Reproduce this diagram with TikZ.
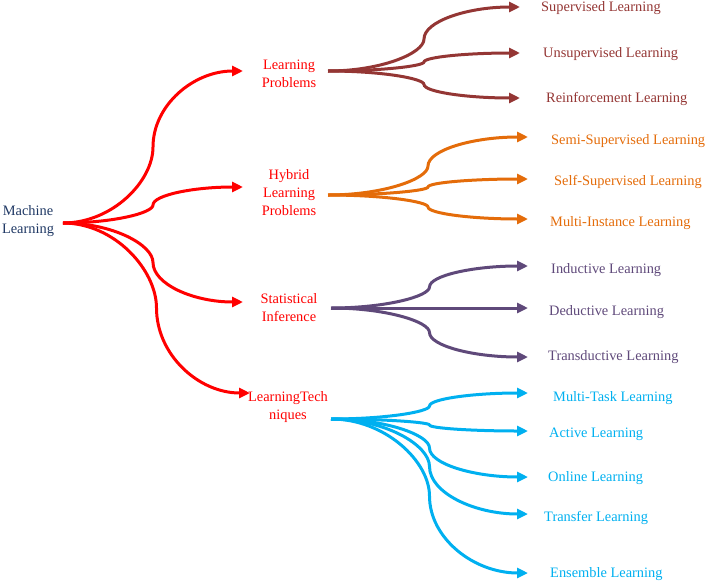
\documentclass[tikz,border=0pt]{standalone}
\usepackage{fontspec}
\setmainfont{Liberation Serif}
\usetikzlibrary{arrows.meta,calc}
\definecolor{mlblue}{HTML}{1F3864}
\definecolor{brred}{HTML}{943634}
\definecolor{orng}{HTML}{E46C0A}
\definecolor{purp}{HTML}{5F497A}
\definecolor{cyn}{HTML}{00B0F0}
\tikzset{
  lbl/.style={font=\fontsize{14.4}{18}\selectfont, inner sep=0pt},
  leaf/.style={lbl, anchor=west},
  brc/.style={line width=3pt, -{Triangle[length=11pt,width=10pt]},
    to path={let \p1=(\tikztostart), \p2=(\tikztotarget),
      \p3=({0.5*\x1+0.5*\x2},{0.5*\y1+0.5*\y2}) in
      .. controls ({\x1+0.55*(\x3-\x1)},\y1) and (\x3,{\y1+0.55*(\y3-\y1)}) ..
      (\p3)
      .. controls (\x3,{\y3+0.55*(\y2-\y3)}) and ({\x2-0.55*(\x2-\x3)},\y2) ..
      (\tikztotarget)}},
}
\begin{document}
\begin{tikzpicture}[x=1pt,y=-1pt]
\useasboundingbox (0,0) rectangle (709,581);
% root
\node[lbl, text=mlblue, align=center] (ml) at (28,221) {Machine\\Learning};
\coordinate (mls) at (63,223);
% level 1
\node[lbl, text=red, align=center] (lp) at (289,74) {Learning\\Problems};
\coordinate (lpin) at (243,71);
\coordinate (lpout) at (328,71);
\node[lbl, text=red, align=center] (hy) at (289,193) {Hybrid\\Learning\\Problems};
\coordinate (hyin) at (243,187);
\coordinate (hyout) at (328,195);
\node[lbl, text=red, align=center] (si) at (289,308) {Statistical\\Inference};
\coordinate (siin) at (243,302);
\coordinate (siout) at (331,308);
\node[lbl, text=red, align=center] (lt) at (288,407) {LearningTech\\niques};
\coordinate (ltin) at (250,393);
\coordinate (ltout) at (331,419);
\draw[brc, red] (mls) to (lpin);
\draw[brc, red] (mls) to (hyin);
\draw[brc, red] (mls) to (siin);
\draw[brc, red] (mls) to (ltin);
% group 1
\node[leaf, text=brred] (sup) at (541,8) {Supervised Learning};
\node[leaf, text=brred] (uns) at (543,54) {Unsupervised Learning};
\node[leaf, text=brred] (rei) at (546,99) {Reinforcement Learning};
\coordinate (supt) at (520,7);
\coordinate (unst) at (520,53);
\coordinate (reit) at (520,98);
\draw[brc, brred] (lpout) to (supt);
\draw[brc, brred] (lpout) to (unst);
\draw[brc, brred] (lpout) to (reit);
% group 2
\node[leaf, text=orng] (semi) at (551,141) {Semi-Supervised Learning};
\node[leaf, text=orng] (self) at (554,182) {Self-Supervised Learning};
\node[leaf, text=orng] (mil) at (550,223) {Multi-Instance Learning};
\coordinate (semit) at (528,137);
\coordinate (selft) at (528,179);
\coordinate (milt) at (528,219);
\draw[brc, orng] (hyout) to (semit);
\draw[brc, orng] (hyout) to (selft);
\draw[brc, orng] (hyout) to (milt);
% group 3
\node[leaf, text=purp] (ind) at (551,270) {Inductive Learning};
\node[leaf, text=purp] (ded) at (549,312) {Deductive Learning};
\node[leaf, text=purp] (tra) at (548,357) {Transductive Learning};
\coordinate (indt) at (528,266);
\coordinate (dedt) at (528,308);
\coordinate (trat) at (528,357);
\draw[brc, purp] (siout) to (indt);
\draw[brc, purp] (siout) to (dedt);
\draw[brc, purp] (siout) to (trat);
% group 4
\node[leaf, text=cyn] (mt) at (553,398) {Multi-Task Learning};
\node[leaf, text=cyn] (act) at (549,434) {Active Learning};
\node[leaf, text=cyn] (onl) at (548,478) {Online Learning};
\node[leaf, text=cyn] (trn) at (544,518) {Transfer Learning};
\node[leaf, text=cyn] (ens) at (550,574) {Ensemble Learning};
\coordinate (mtt) at (528,393);
\coordinate (actt) at (528,431);
\coordinate (onlt) at (528,477);
\coordinate (trnt) at (528,514);
\coordinate (enst) at (528,573);
\draw[brc, cyn] (ltout) to (mtt);
\draw[brc, cyn] (ltout) to (actt);
\draw[brc, cyn] (ltout) to (onlt);
\draw[brc, cyn] (ltout) to (trnt);
\draw[brc, cyn] (ltout) to (enst);
\end{tikzpicture}
\end{document}
